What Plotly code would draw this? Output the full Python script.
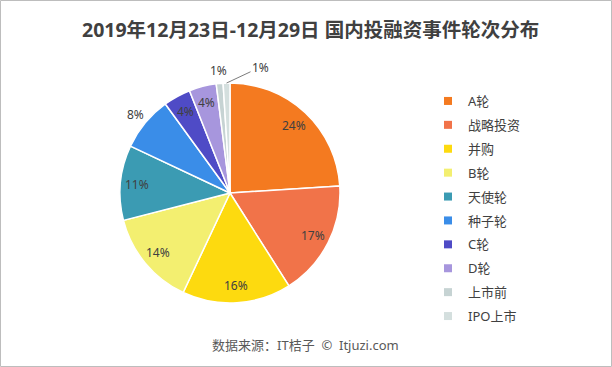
import math
import plotly.graph_objects as go

# ---- data ----
labels = ["A轮", "战略投资", "并购", "B轮", "天使轮", "种子轮", "C轮", "D轮", "上市前", "IPO上市"]
values = [24, 17, 16, 14, 11, 8, 4, 4, 1, 1]
colors = ["#F47A20", "#F17349", "#FDDA0F", "#F3EF70", "#3B9BB3", "#3A8DE8",
          "#4F4BC6", "#A796DD", "#C6D3D3", "#D4DFDE"]
title_text = "2019年12月23日-12月29日 国内投融资事件轮次分布"
source_text = "数据来源：IT桔子  ©  Itjuzi.com"

W, H = 612, 367
CX, CY, R = 230, 193, 110
FONT = "Noto Sans, Noto Sans CJK SC, sans-serif"
TXT = "#404040"

fig = go.Figure()
fig.add_trace(go.Pie(
    labels=labels, values=values, sort=False, direction="clockwise", rotation=0,
    marker=dict(colors=colors, line=dict(color="white", width=1.5)),
    textinfo="none", hoverinfo="label+percent", showlegend=False,
    domain=dict(x=[(CX - R) / W, (CX + R) / W], y=[1 - (CY + R) / H, 1 - (CY - R) / H]),
))

# legend entries (one per slice, same labels/colours)
for lab, col in zip(labels, colors):
    fig.add_trace(go.Scatter(
        x=[None], y=[None], mode="markers", name=lab, legendgroup=lab,
        marker=dict(symbol="square", size=8, color=col), hoverinfo="skip",
    ))

# percentage labels, placed from the cumulative shares
outside = {"种子轮", "上市前", "IPO上市"}
total = sum(values)
cum = 0
annotations = []
for lab, v in zip(labels, values):
    mid = (cum + v / 2) / total
    cum += v
    th = 2 * math.pi * mid
    pct = f"{round(100 * v / total)}%"
    if lab == "IPO上市":
        ex = CX + R * math.sin(th)
        ey = CY - R * math.cos(th)
        annotations.append(dict(
            x=ex / W, y=1 - ey / H, xref="paper", yref="paper", text=pct,
            showarrow=True, arrowhead=0, arrowwidth=0.8, arrowcolor="#595959",
            ax=34, ay=-16, standoff=0, startstandoff=0,
            font=dict(family=FONT, size=12, color=TXT)))
        continue
    r = R * (1.12 if lab in outside else 0.845)
    px = CX + r * math.sin(th)
    py = CY - r * math.cos(th)
    annotations.append(dict(
        x=px / W, y=1 - py / H, xref="paper", yref="paper", text=pct,
        showarrow=False, xanchor="center", yanchor="middle",
        font=dict(family=FONT, size=12, color=TXT)))

annotations.append(dict(
    x=310 / W, y=1 - 30 / H, xref="paper", yref="paper", showarrow=False,
    text=f"<b>{title_text}</b>", xanchor="center", yanchor="middle",
    font=dict(family=FONT, size=19.5, color=TXT)))
annotations.append(dict(
    x=305 / W, y=1 - 345 / H, xref="paper", yref="paper", showarrow=False,
    text=source_text, xanchor="center", yanchor="middle",
    font=dict(family=FONT, size=13, color="#595959")))

fig.update_layout(
    width=W, height=H, margin=dict(l=0, r=0, t=0, b=0),
    paper_bgcolor="white", plot_bgcolor="white",
    xaxis=dict(visible=False), yaxis=dict(visible=False),
    annotations=annotations,
    legend=dict(x=428 / W, y=1 - 86 / H, xanchor="left", yanchor="top",
                traceorder="grouped", tracegroupgap=4,
                font=dict(family=FONT, size=13, color=TXT),
                bgcolor="rgba(0,0,0,0)"),
    shapes=[dict(type="rect", xref="paper", yref="paper",
                 x0=0.5 / W, y0=0.5 / H, x1=1 - 0.5 / W, y1=1 - 0.5 / H,
                 line=dict(color="#BDBDBD", width=1))],
)

fig.write_html("out.html", config={"displayModeBar": False},
               post_script="document.body.style.margin='0';document.body.style.overflow='hidden';")
